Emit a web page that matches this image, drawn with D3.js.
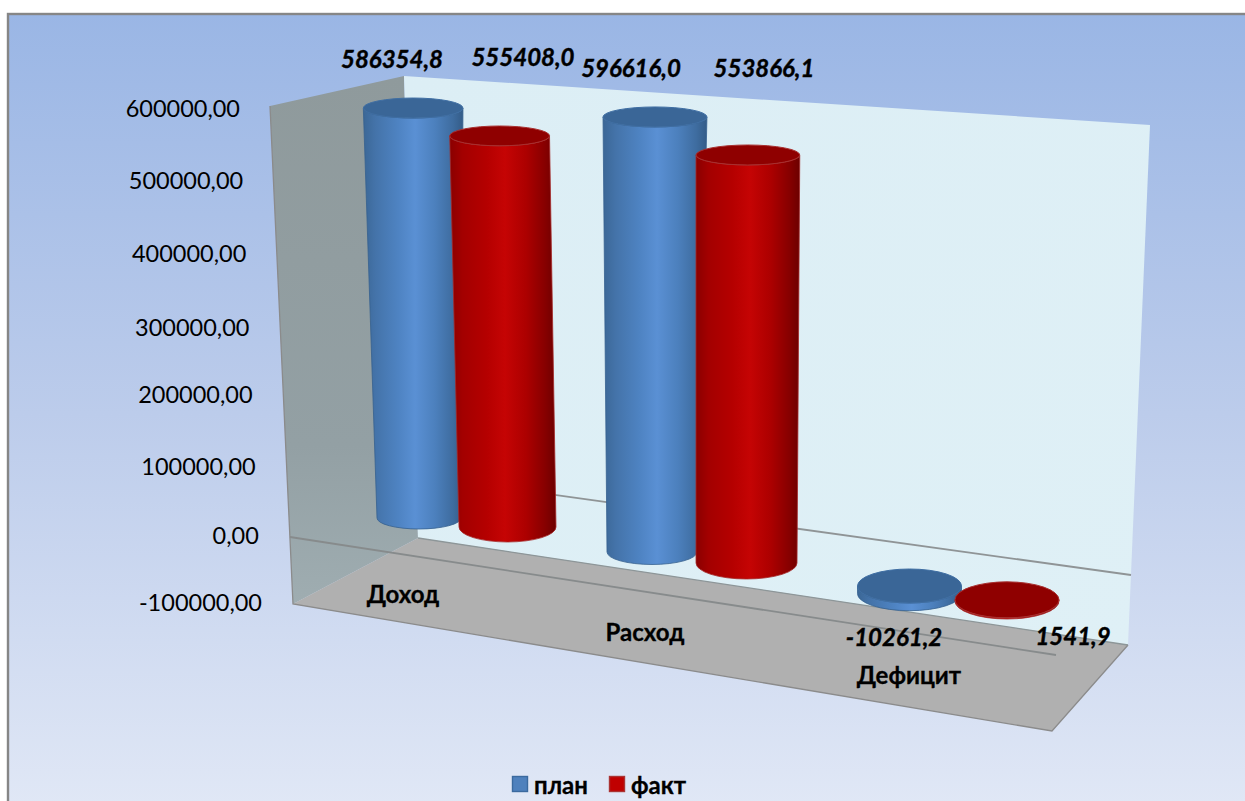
<!DOCTYPE html>
<html><head><meta charset="utf-8">
<script src="https://cdn.jsdelivr.net/npm/d3@7/dist/d3.min.js"></script>
<style>html,body{margin:0;padding:0;background:#fff;overflow:hidden}svg{display:block}text{font-family:Lato,"Open Sans",sans-serif;fill:#000}</style>
</head><body><svg id="c" width="1245" height="801"></svg>
<script>
const categories = ["Доход","Расход","Дефицит"];
const seriesNames = ["план","факт"];
const planValues = [586354.8,596616.0,-10261.2];
const factValues = [555408.0,553866.1,1541.9];
const planLabels = ["586354,8","596616,0","-10261,2"];
const factLabels = ["555408,0","553866,1","1541,9"];
const axisTicks = [600000,500000,400000,300000,200000,100000,0,-100000];

const fmtTick = d => d3.format(".2f")(d).replace(".",",").replace("\u2212","-");
const svg = d3.select("#c"), defs = svg.append("defs");
function linGrad(id,x1,y1,x2,y2,stops){
  const g = defs.append("linearGradient").attr("id",id).attr("x1",x1).attr("y1",y1).attr("x2",x2).attr("y2",y2);
  stops.forEach(s=>g.append("stop").attr("offset",s[0]).attr("stop-color",s[1]));
}
linGrad("bg",0,0,0,1,[[0,"#9ab6e5"],[.5,"#bccceb"],[1,"#e1e8f6"]]);
linGrad("wallL",0,0,0,1,[[0,"#8f9a9c"],[.7,"#93a0a4"],[1,"#9fadb1"]]);
linGrad("wallB",0,0,1,1,[[0,"#dceef5"],[1,"#dff0f6"]]);
linGrad("cylBlue",0,0,1,0,[[0,"#3b6796"],[.12,"#4473a9"],[.35,"#4e83c2"],[.52,"#5a90d4"],[.72,"#4c80bd"],[.9,"#3e6c9f"],[1,"#345c88"]]);
linGrad("cylRed",0,0,1,0,[[0,"#8a0000"],[.12,"#a30000"],[.35,"#b50000"],[.52,"#c50404"],[.72,"#ac0000"],[.9,"#860000"],[1,"#6c0000"]]);

// frame
svg.append("rect").attr("x",8).attr("y",14).attr("width",1245).attr("height",800).attr("fill","url(#bg)").attr("stroke","#868686").attr("stroke-width",2.4);

// chart box
const walls = [
 {pts:[[270,106],[404,76],[418,538],[293,604]],fill:"url(#wallL)"},
 {pts:[[404,76],[1150,125],[1128,645],[418,538]],fill:"url(#wallB)"},
 {pts:[[293,604],[418,538],[1128,645],[1052,731]],fill:"#b0b0b0"}
];
const poly = d3.line();
walls.forEach(w=>svg.append("path").attr("d",poly(w.pts)+"Z").attr("fill",w.fill));
svg.append("path").attr("d",poly([[270,106],[293,604],[1052,731],[1128,645]])).attr("fill","none").attr("stroke","#8b8b8b").attr("stroke-width",1.3);
svg.append("path").attr("d",poly([[418,538],[1128,645]])).attr("fill","none").attr("stroke","#8d9698").attr("stroke-width",1.3);
// zero lines
svg.append("path").attr("d",poly([[404,474],[1131,575]])).attr("fill","none").attr("stroke","#8f9496").attr("stroke-width",1.8);
svg.append("path").attr("d",poly([[290,537],[1056,655]])).attr("fill","none").attr("stroke","#878b8c").attr("stroke-width",1.8);

// axis tick labels
const tickY = d3.scaleLinear().domain(axisTicks).range([109,181,254,328,395,467,536,603]);
const tickRight = d3.scaleLinear().domain([600000,-100000]).range([240,262]);
svg.append("g").selectAll("text").data(axisTicks).join("text")
  .attr("x",d=>tickRight(d)).attr("y",d=>tickY(d)).attr("dy","0.36em")
  .attr("text-anchor","end").attr("font-size",23.5).text(fmtTick);

// bars projected through per-slot scales
const slots = d3.range(6);
const slotOf = (c,s)=>c*2+s;
const yZero = d3.scaleLinear().domain(slots).range([518,527,552,563,586,601]);
const yFull = d3.scaleLinear().domain(slots).range([98.5,104.5,114.5,121,136,151]);
const xZero = d3.scaleLinear().domain(slots).range([419,507.5,652,746.5,909.5,1007]);
const xFull = d3.scaleLinear().domain(slots).range([413,499,655,748,909.5,1007]);
const rxZero = d3.scaleLinear().domain(slots).range([42,48.5,45,50.5,52,52]);
const rxFull = d3.scaleLinear().domain(slots).range([50,50,52,52,52,52]);
const ryZero = d3.scaleLinear().domain(slots).range([11,15,12.5,16,17,18]);
const ryFull = d3.scaleLinear().domain(slots).range([10,9.5,10,9.5,17,18]);
const t = d3.scaleLinear().domain([0,600000]);
function proj(slot,v){
  const k = Math.max(0,t(v));
  return {
    x:d3.interpolateNumber(xZero(slot),xFull(slot))(k),
    y:d3.interpolateNumber(yZero(slot),yFull(slot))(t(v)),
    rx:d3.interpolateNumber(rxZero(slot),rxFull(slot))(k),
    ry:d3.interpolateNumber(ryZero(slot),ryFull(slot))(k)
  };
}
const styles = [
  {fill:"url(#cylBlue)",top:"#3a6697",rim:"#3f6ea3",edge:"#36618f"},
  {fill:"url(#cylRed)",top:"#8f0000",rim:"#a83030",edge:"#a52a2a"}
];
const bars = [];
categories.forEach((c,i)=>{
  bars.push({slot:slotOf(i,0),v:planValues[i],s:0});
  bars.push({slot:slotOf(i,1),v:factValues[i],s:1});
});
const gBars = svg.append("g");
bars.forEach(b=>{
  const hi = proj(b.slot,Math.max(b.v,0)), lo = proj(b.slot,Math.min(b.v,0)), st = styles[b.s];
  gBars.append("path")
    .attr("d",`M${hi.x-hi.rx},${hi.y}L${lo.x-lo.rx},${lo.y}A${lo.rx},${lo.ry} 0 0 0 ${lo.x+lo.rx},${lo.y}L${hi.x+hi.rx},${hi.y}A${hi.rx},${hi.ry} 0 0 1 ${hi.x-hi.rx},${hi.y}Z`)
    .attr("fill",st.fill).attr("stroke",st.edge).attr("stroke-width",.8);
  gBars.append("ellipse").attr("cx",hi.x).attr("cy",hi.y).attr("rx",hi.rx).attr("ry",hi.ry)
    .attr("fill",st.top).attr("stroke",st.rim).attr("stroke-width",1);
});

// data labels
const labelAt = [
  {text:planLabels[0],x:392,y:59},{text:factLabels[0],x:523,y:57},
  {text:planLabels[1],x:631,y:68},{text:factLabels[1],x:764,y:68},
  {text:planLabels[2],x:894,y:637},{text:factLabels[2],x:1073,y:636}
];
svg.append("g").selectAll("text").data(labelAt).join("text")
  .attr("x",d=>d.x).attr("y",d=>d.y).attr("dy","0.36em").attr("text-anchor","middle")
  .attr("font-size",24).attr("font-weight",700).attr("font-style","italic")
  .attr("stroke","#000").attr("stroke-width",.4).text(d=>d.text);

// category labels
const catAt = [[403,594],[645,632],[909,675]];
svg.append("g").selectAll("text").data(categories).join("text")
  .attr("x",(d,i)=>catAt[i][0]).attr("y",(d,i)=>catAt[i][1]).attr("dy","0.36em").attr("text-anchor","middle")
  .attr("font-size",24).attr("font-weight",700).attr("stroke","#000").attr("stroke-width",.3).text(d=>d);

// legend
const legAt = [512,609];
const legFill = ["#4f81bd","#c00000"], legEdge=["#3b6a9f","#a33"];
const leg = svg.append("g").selectAll("g").data(seriesNames).join("g").attr("transform",(d,i)=>`translate(${legAt[i]},0)`);
leg.append("rect").attr("x",.5).attr("y",776.5).attr("width",15).attr("height",15).attr("fill",(d,i)=>legFill[i]).attr("stroke",(d,i)=>legEdge[i]).attr("stroke-width",1.4);
leg.append("text").attr("x",22).attr("y",785).attr("dy","0.36em").attr("font-size",24).attr("font-weight",700).attr("stroke","#000").attr("stroke-width",.3).text(d=>d);
</script></body></html>
